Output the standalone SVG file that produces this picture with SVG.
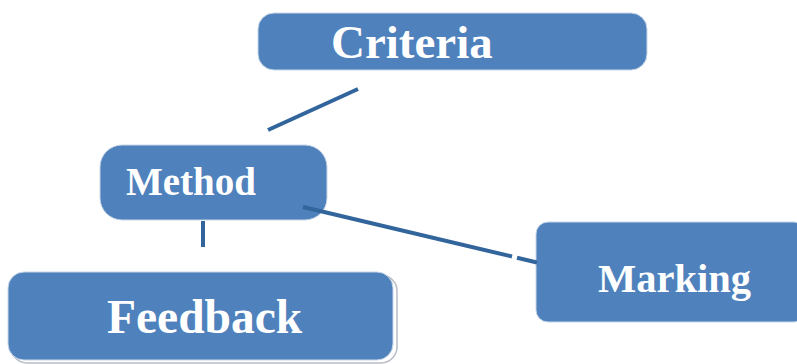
<svg xmlns="http://www.w3.org/2000/svg" width="797" height="364" viewBox="0 0 797 364">
<style>
.box{fill:#4f81bd;stroke:#c9d6e8;stroke-width:1}
.lbl{fill:#ffffff;font-family:"Liberation Serif","Times New Roman",serif;font-weight:bold}
.conn{stroke:#32659c;stroke-width:4;fill:none}
</style>
<rect width="797" height="364" fill="#ffffff"/>
<g id="criteria">
<rect class="box" x="258" y="13" width="389" height="57" rx="16"/>
<text class="lbl" x="331" y="58" font-size="47">Criteria</text>
</g>
<g id="method">
<rect class="box" x="100" y="145" width="227" height="75" rx="22"/>
<text class="lbl" x="126" y="195" font-size="39">Method</text>
</g>
<g id="feedback">
<rect x="11" y="275" width="386" height="88" rx="16" fill="none" stroke="#b8bcc4" stroke-width="1.5"/>
<rect class="box" x="8" y="272" width="385" height="88" rx="16" stroke="#ffffff" stroke-width="2"/>
<text class="lbl" x="107" y="333" font-size="47.5">Feedback</text>
</g>
<g id="marking">
<rect class="box" x="536" y="222" width="270" height="100" rx="12"/>
<text class="lbl" x="598" y="292" font-size="40.5">Marking</text>
</g>
<g id="connectors">
<line class="conn" x1="268" y1="130" x2="358" y2="89"/>
<line class="conn" x1="303" y1="207" x2="512" y2="256.5"/>
<line class="conn" x1="517" y1="257.7" x2="537" y2="262.5"/>
<line class="conn" x1="203" y1="221" x2="203" y2="247"/>
</g>
</svg>
